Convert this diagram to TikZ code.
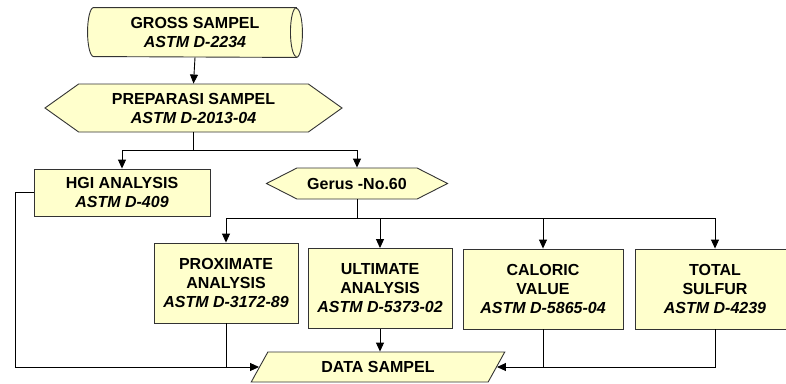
\documentclass[tikz,border=0pt]{standalone}
\usepackage{fontspec}
\setmainfont{Liberation Sans}
\usetikzlibrary{shapes.geometric,shapes.symbols,arrows.meta,backgrounds}
\definecolor{boxfill}{HTML}{FFFFCC}
\definecolor{boxline}{HTML}{333333}
\tikzset{
  base/.style={draw=boxline,fill=boxfill,line width=0.9pt,align=center,inner sep=2pt,
    font=\fontsize{16}{19}\selectfont\bfseries},
  tanktext/.style={base,draw=none,fill=none,rectangle},
  tankbody/.style={draw=boxline,fill=boxfill,line width=0.9pt},
  hexa/.style={base,signal,signal to=west and east},
  proc/.style={base,rectangle},
  io/.style={base,trapezium,trapezium left angle=60,trapezium right angle=120,
    trapezium stretches=true},
}
\begin{document}
\begin{tikzpicture}[x=1pt,y=-1pt,>={Triangle[length=9pt,width=8pt]},line width=0.9pt]
\useasboundingbox (0,0) rectangle (786,383);
\node[tanktext,minimum width=202pt,minimum height=49pt] (gross) at (195,32.5) {GROSS SAMPEL\\\textit{ASTM D-2234}};
\node[hexa,signal pointer angle=71,minimum width=297pt,minimum height=48pt] (prep) at (193.5,108) {PREPARASI SAMPEL\\\textit{ASTM D-2013-04}};
\node[proc,minimum width=176pt,minimum height=47pt] (hgi) at (122,192.5) {HGI ANALYSIS\\\textit{ASTM D-409}};
\node[hexa,signal pointer angle=54,minimum width=181pt,minimum height=31pt] (gerus) at (357,183.5) {Gerus -No.60};
\node[proc,minimum width=144pt,minimum height=80pt] (prox) at (226,283) {PROXIMATE\\ANALYSIS\\\textit{ASTM D-3172-89}};
\node[proc,minimum width=144pt,minimum height=80pt] (ult) at (380,288.5) {ULTIMATE\\ANALYSIS\\\textit{ASTM D-5373-02}};
\node[proc,minimum width=160pt,minimum height=80pt] (cal) at (543,289) {CALORIC\\VALUE\\\textit{ASTM D-5865-04}};
\node[proc,minimum width=160pt,minimum height=80pt] (tot) at (715,289) {TOTAL\\SULFUR\\\textit{ASTM D-4239}};
\node[io,minimum width=254pt,minimum height=30pt] (data) at (378,367) {DATA SAMPEL};
\coordinate (split1) at (193.5,150);
\coordinate (split2) at (357,218);
% cylinder behind the first node
\begin{scope}[on background layer]
\path[tankbody] (gross.north east) -- (gross.north west)
  arc[start angle=90,end angle=270,x radius=6pt,y radius=24.5pt] -- (gross.south east)
  arc[start angle=-90,end angle=90,x radius=6pt,y radius=24.5pt] -- cycle;
\draw[tankbody,fill=none] (gross.north east)
  arc[start angle=90,end angle=270,x radius=6pt,y radius=24.5pt];
\end{scope}
% top part
\draw[->] (gross.south) -- (prep.north);
\draw (prep.south) -- (split1);
\draw[->] (split1) -| (hgi.north);
\draw[->] (split1) -| (gerus.north);
% analyses
\draw (gerus.south) -- (split2);
\draw[->] (split2) -| (prox.north);
\draw[->] (split2) -| (ult.north);
\draw[->] (split2) -| (cal.north);
\draw[->] (split2) -| (tot.north);
% results
\draw[->] (hgi.west) -- ++(-18,0) |- (data);
\draw (prox.south) -- (prox.south |- data);
\draw[->] (ult.south) -- (ult.south |- data.north);
\draw (cal.south) -- (cal.south |- data);
\draw[->] (tot.south) |- (data);
\end{tikzpicture}
\end{document}
